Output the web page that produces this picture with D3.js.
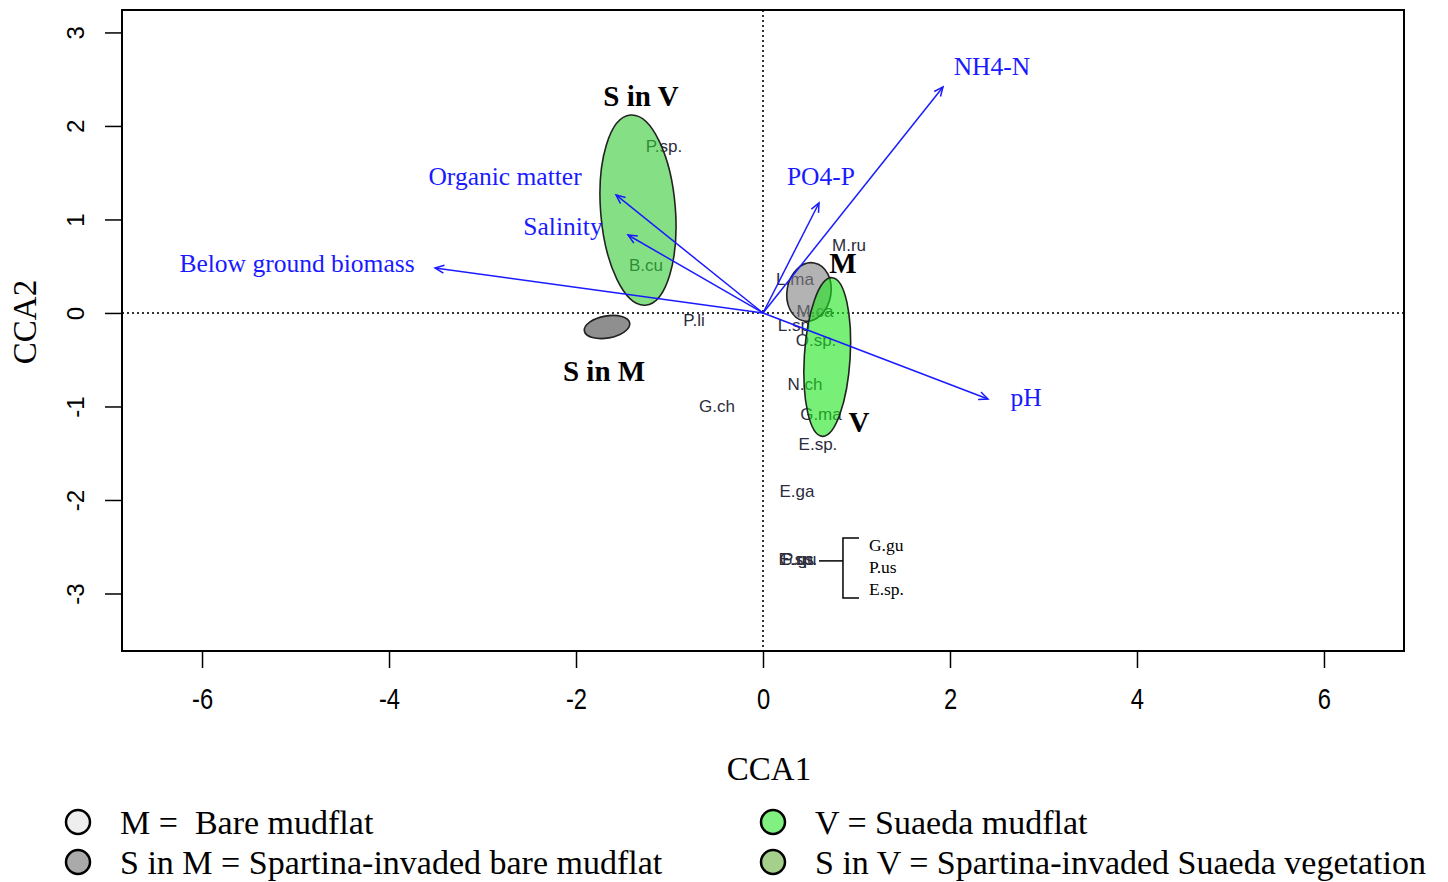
<!DOCTYPE html>
<html>
<head>
<meta charset="utf-8">
<script src="https://cdn.jsdelivr.net/npm/d3@7"></script>
<style>
  body { margin: 0; background: #fff; }
  svg { display: block; }
</style>
</head>
<body>
<svg id="chart" width="1448" height="882"></svg>
<script>
// environmental arrows (biplot scores), label spot in axis units
const envVars = [
  { name: "NH4-N", x: 1.925, y: 2.417, lx: 2.449, ly: 2.642 },
  { name: "PO4-P", x: 0.599, y: 1.176, lx: 0.62, ly: 1.465 },
  { name: "Organic matter", x: -1.572, y: 1.262, lx: -2.759, ly: 1.465 },
  { name: "Salinity", x: -1.444, y: 0.834, lx: -2.139, ly: 0.93 },
  { name: "Below ground biomass", x: -3.508, y: 0.481, lx: -4.984, ly: 0.535 },
  { name: "pH", x: 2.406, y: -0.92, lx: 2.813, ly: -0.898 }
];

// species scores
const species = [
  { name: "P.sp.", x: -1.059, y: 1.787 },
  { name: "B.cu", x: -1.251, y: 0.513 },
  { name: "P.li", x: -0.738, y: -0.075 },
  { name: "G.ch", x: -0.492, y: -0.995 },
  { name: "M.ru", x: 0.92, y: 0.727 },
  { name: "L.ma", x: 0.342, y: 0.364 },
  { name: "M.ca", x: 0.556, y: 0.021 },
  { name: "L.sp", x: 0.33, y: -0.13 },
  { name: "O.sp.", x: 0.567, y: -0.289 },
  { name: "N.ch", x: 0.449, y: -0.759 },
  { name: "G.ma", x: 0.62, y: -1.08 },
  { name: "E.sp.", x: 0.588, y: -1.40 },
  { name: "E.ga", x: 0.364, y: -1.904 },
  { name: "G.gu", x: 0.374, y: -2.63 },
  { name: "P.us", x: 0.374, y: -2.63 },
  { name: "E.sp.", x: 0.374, y: -2.63 }
];
// the three species stacked on one point, listed beside it
const stackedNames = ["G.gu", "P.us", "E.sp."];
const stackedAt = { x: 0.374, y: -2.63 };

// group ellipses (centre, semi-axes in axis units, tilt in degrees)
const groups = [
  { key: "S in V", cx: -1.337, cy: 1.10, rx: 0.40, ry: 1.02, tilt: -4.5, fill: "rgb(52,204,52)", lx: -1.305, ly: 2.321 },
  { key: "S in M", cx: -1.668, cy: -0.15, rx: 0.246, ry: 0.118, tilt: -10, fill: "rgb(68,68,68)", lx: -1.70, ly: -0.62 },
  { key: "M", cx: 0.492, cy: 0.225, rx: 0.235, ry: 0.315, tilt: 10, fill: "rgb(128,128,128)", lx: 0.856, ly: 0.535 },
  { key: "V", cx: 0.687, cy: -0.471, rx: 0.245, ry: 0.85, tilt: 3.5, fill: "rgb(30,230,30)", lx: 1.027, ly: -1.166 }
];

const legendItems = [
  { text: "M =  Bare mudflat", fill: "#eeeeee" },
  { text: "S in M = Spartina-invaded bare mudflat", fill: "#aaaaaa" },
  { text: "V = Suaeda mudflat", fill: "#80f080" },
  { text: "S in V = Spartina-invaded Suaeda vegetation", fill: "#a4d08c" }
];

const xTicks = [-6, -4, -2, 0, 2, 4, 6];
const yTicks = [-3, -2, -1, 0, 1, 2, 3];

const svg = d3.select("#chart");
const plot = { left: 122, right: 1404, top: 10, bottom: 651 };

const x = d3.scaleLinear().domain([-6.856, 6.856]).range([plot.left, plot.right]);
const y = d3.scaleLinear().domain([-3.615, 3.24]).range([plot.bottom, plot.top]);

const serif = "'Liberation Serif', 'Times New Roman', serif";
const sans = "'Liberation Sans', Arial, sans-serif";

// axes
const xAxis = svg.append("g")
  .attr("transform", `translate(0,${plot.bottom})`)
  .call(d3.axisBottom(x).tickValues(xTicks).tickSize(17).tickPadding(20).tickFormat(d3.format("d")));
xAxis.select(".domain").remove();
xAxis.selectAll("line").attr("stroke", "#000").attr("stroke-width", 1.5);
xAxis.selectAll(".tick text")
  .attr("font-family", sans)
  .attr("font-size", 29).attr("fill", "#000")
  .attr("transform", "scale(0.82,1)")
  .text(d => d < 0 ? "-" + Math.abs(d) : d);

const yAxis = svg.append("g")
  .attr("transform", `translate(${plot.left},0)`)
  .call(d3.axisLeft(y).tickValues(yTicks).tickSize(17).tickFormat(d3.format("d")));
yAxis.select(".domain").remove();
yAxis.selectAll("line").attr("stroke", "#000").attr("stroke-width", 1.5);
yAxis.selectAll("text")
  .attr("font-family", sans).attr("font-size", 24).attr("fill", "#000")
  .attr("text-anchor", "middle")
  .attr("x", 0).attr("y", -38).attr("dy", 0)
  .attr("transform", "rotate(-90)")
  .text(d => d < 0 ? "-" + Math.abs(d) : d);

// zero lines
svg.append("line")
  .attr("x1", plot.left).attr("x2", plot.right).attr("y1", y(0)).attr("y2", y(0))
  .attr("stroke", "#333").attr("stroke-width", 2).attr("stroke-dasharray", "2,3");
svg.append("line")
  .attr("x1", x(0)).attr("x2", x(0)).attr("y1", plot.top).attr("y2", plot.bottom)
  .attr("stroke", "#333").attr("stroke-width", 2).attr("stroke-dasharray", "2,3");

// species labels (under the ellipses, like the original)
svg.append("g").selectAll("text")
  .data(species)
  .join("text")
  .attr("x", d => x(d.x)).attr("y", d => y(d.y))
  .attr("dy", "0.35em")
  .attr("text-anchor", "middle")
  .attr("font-family", sans).attr("font-size", 17)
  .attr("fill", "#2c2c3c")
  .text(d => d.name);

// group ellipses
const ux = x(1) - x(0), uy = y(0) - y(1);
svg.append("g").selectAll("ellipse")
  .data(groups)
  .join("ellipse")
  .attr("cx", 0).attr("cy", 0)
  .attr("rx", d => d.rx * ux).attr("ry", d => d.ry * uy)
  .attr("transform", d => `translate(${x(d.cx)},${y(d.cy)}) rotate(${d.tilt})`)
  .attr("fill", d => d.fill).attr("fill-opacity", 0.6)
  .attr("stroke", "#222").attr("stroke-width", 1.6);

svg.append("g").selectAll("text")
  .data(groups)
  .join("text")
  .attr("x", d => x(d.lx)).attr("y", d => y(d.ly))
  .attr("dy", "0.35em")
  .attr("text-anchor", "middle")
  .attr("font-family", serif).attr("font-size", 29).attr("font-weight", "bold")
  .attr("fill", "#000")
  .text(d => d.key);

// arrows
svg.append("defs").append("marker")
  .attr("id", "head")
  .attr("viewBox", "-10 -6 12 12")
  .attr("refX", 0).attr("refY", 0)
  .attr("markerWidth", 12).attr("markerHeight", 12)
  .attr("markerUnits", "userSpaceOnUse")
  .attr("orient", "auto")
  .append("path")
  .attr("d", "M-9,-4 L0,0 L-9,4")
  .attr("fill", "none").attr("stroke", "#1a1aff").attr("stroke-width", 1.5);

svg.append("g").selectAll("line")
  .data(envVars)
  .join("line")
  .attr("x1", x(0)).attr("y1", y(0))
  .attr("x2", d => x(d.x)).attr("y2", d => y(d.y))
  .attr("stroke", "#1a1aff").attr("stroke-width", 1.5)
  .attr("marker-end", "url(#head)");

svg.append("g").selectAll("text")
  .data(envVars)
  .join("text")
  .attr("x", d => x(d.lx)).attr("y", d => y(d.ly))
  .attr("dy", "0.35em")
  .attr("text-anchor", "middle")
  .attr("font-family", serif).attr("font-size", 25.5)
  .attr("fill", "#1a1aff")
  .text(d => d.name);

// bracket for stacked species
const sx = x(stackedAt.x), sy = y(stackedAt.y);
const br = svg.append("g").attr("stroke", "#000").attr("stroke-width", 1.5).attr("fill", "none");
br.append("line").attr("x1", sx + 21).attr("x2", sx + 45).attr("y1", sy + 2).attr("y2", sy + 2);
br.append("path")
  .attr("d", `M${sx + 61},${sy - 21} H${sx + 45} V${sy + 39} H${sx + 61}`);
svg.append("g").selectAll("text")
  .data(stackedNames)
  .join("text")
  .attr("x", sx + 71).attr("y", (d, i) => sy - 14 + i * 22)
  .attr("dy", "0.35em")
  .attr("font-family", serif).attr("font-size", 17.5)
  .attr("fill", "#000")
  .text(d => d);

// plot frame
svg.append("rect")
  .attr("x", plot.left).attr("y", plot.top)
  .attr("width", plot.right - plot.left).attr("height", plot.bottom - plot.top)
  .attr("fill", "none").attr("stroke", "#000").attr("stroke-width", 2);

// axis titles
svg.append("text")
  .attr("x", 769).attr("y", 768).attr("dy", "0.35em")
  .attr("text-anchor", "middle")
  .attr("font-family", serif).attr("font-size", 33)
  .text("CCA1");
svg.append("text")
  .attr("transform", "translate(24,322) rotate(-90)")
  .attr("dy", "0.35em")
  .attr("text-anchor", "middle")
  .attr("font-family", serif).attr("font-size", 33)
  .text("CCA2");

// legend, two columns
const leg = svg.append("g").selectAll("g")
  .data(legendItems)
  .join("g")
  .attr("transform", (d, i) => `translate(${i < 2 ? 78 : 773},${822 + (i % 2) * 40})`);
leg.append("circle")
  .attr("r", 12).attr("fill", d => d.fill)
  .attr("stroke", "#000").attr("stroke-width", 2.5);
leg.append("text")
  .attr("x", 42).attr("dy", "0.35em")
  .attr("font-family", serif).attr("font-size", 34)
  .attr("fill", "#000")
  .attr("xml:space", "preserve")
  .style("white-space", "pre")
  .text(d => d.text);
</script>
</body>
</html>
